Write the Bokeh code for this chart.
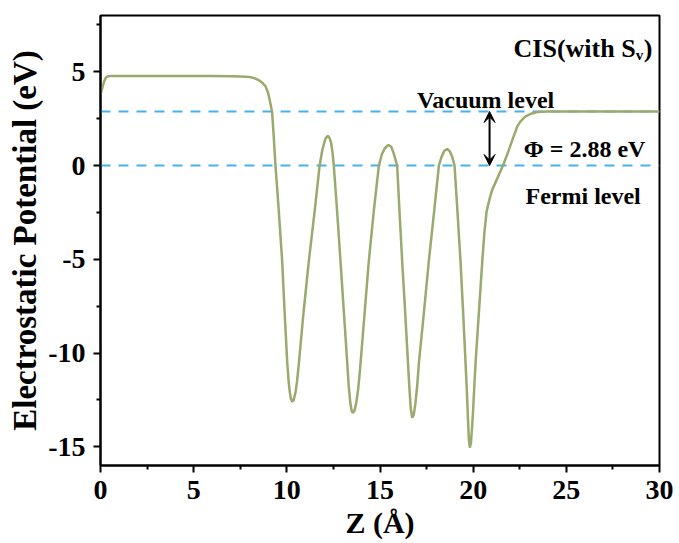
from bokeh.plotting import figure
from bokeh.models import Range1d, FixedTicker, Arrow, VeeHead, Label, Title
from bokeh.embed import file_html
from bokeh.resources import INLINE

# Planar-averaged electrostatic potential along Z for CIS with S vacancy
z_angstrom = [
    0.00, 0.10, 0.20, 0.30, 0.40, 0.60, 1.0, 2.0, 3.0, 4.0, 5.0, 6.0, 7.0, 7.5,
    8.0, 8.25, 8.5, 8.7, 8.86, 9.0, 9.1, 9.21, 9.3, 9.39, 9.48, 9.57, 9.75, 9.88,
    10.02, 10.1, 10.16, 10.22, 10.29, 10.36, 10.47, 10.55, 10.65, 10.9, 11.18,
    11.49, 11.76, 11.9, 11.99, 12.08, 12.2, 12.3, 12.38, 12.45, 12.52, 12.7,
    12.88, 13.06, 13.24, 13.32, 13.4, 13.47, 13.54, 13.62, 13.72, 13.82, 13.9, 13.96,
    14.18, 14.4, 14.67, 14.94, 15.1, 15.25, 15.38, 15.48, 15.6, 15.72, 15.82,
    15.92, 16.05, 16.19, 16.35, 16.5, 16.58, 16.65, 16.73, 16.81, 16.9, 17.0,
    17.09, 17.36, 17.62, 17.9, 18.16, 18.3, 18.45, 18.61, 18.75, 18.88, 19.0,
    19.16, 19.32, 19.46, 19.59, 19.66, 19.72, 19.77, 19.82, 19.88, 19.94, 20.0,
    20.06, 20.13, 20.31, 20.49, 20.6, 20.72, 20.85, 21.0, 21.2, 21.4, 21.6,
    21.85, 22.1, 22.37, 22.54, 22.81, 23.1, 23.44, 24.0, 25.0, 27.0, 30.0,
]
potential_ev = [
    3.78, 4.15, 4.50, 4.70, 4.76, 4.78, 4.78, 4.78, 4.78, 4.78, 4.77, 4.77, 4.76, 4.75,
    4.72, 4.66, 4.55, 4.40, 4.22, 3.85, 3.40, 2.85, 1.50, 0.00, -1.20, -2.46, -5.10, -7.80,
    -10.50, -11.55, -12.10, -12.45, -12.60, -12.52, -12.08, -11.50, -10.50, -7.80, -5.10,
    -2.46, 0.00, 0.80, 1.15, 1.45, 1.58, 1.45, 1.20, 0.70, 0.00, -2.46,
    -5.10, -7.80, -10.50, -11.75, -12.60, -13.05, -13.20, -13.10, -12.70, -12.00, -11.20, -10.50,
    -7.80, -5.10, -2.40, 0.00, 0.60, 0.90, 1.05, 1.08, 1.00, 0.70, 0.35,
    0.00, -2.50, -5.10, -7.80, -10.50, -11.90, -12.95, -13.45, -13.30, -12.70, -11.70,
    -10.50, -7.80, -5.10, -2.50, 0.00, 0.45, 0.78, 0.88, 0.75, 0.45, 0.00,
    -2.50, -5.10, -7.80, -10.50, -12.00, -13.50, -14.60, -15.05, -14.80, -14.00, -13.00,
    -11.80, -10.50, -7.80, -5.10, -3.60, -2.46, -1.90, -1.35, -0.90, -0.45, 0.00,
    0.65, 1.35, 2.09, 2.35, 2.62, 2.76, 2.85, 2.88, 2.88, 2.88, 2.88,
]

vacuum_level = 2.88
fermi_level = 0.0
level_span = [0, 30]
work_function_z = 20.88

x_ticks = [0, 5, 10, 15, 20, 25, 30]
x_minor = [2.5, 7.5, 12.5, 17.5, 22.5, 27.5]
y_ticks = [-15, -10, -5, 0, 5]
y_minor = [-12.5, -7.5, -2.5, 2.5, 7.5]
y_tick_labels = ["-15", "-10", "-5", "0", "5"]

FONT = "Liberation Serif"
CURVE = "#9aa96c"
DASH = "#45b2ee"

p = figure(width=679, height=543, output_backend="svg", toolbar_location=None,
           x_range=Range1d(0, 30), y_range=Range1d(-16, 8))
p.min_border_left = 100
p.min_border_right = 20
p.min_border_top = 15
p.min_border_bottom = 78
p.background_fill_color = "white"
p.border_fill_color = "white"
p.outline_line_color = "black"
p.outline_line_width = 2
p.xgrid.visible = False
p.ygrid.visible = False

for ax, ticks, minor in ((p.xaxis[0], x_ticks, x_minor), (p.yaxis[0], y_ticks, y_minor)):
    ax.ticker = FixedTicker(ticks=ticks, minor_ticks=minor)
    ax.axis_line_color = "black"
    ax.axis_line_width = 2
    ax.major_tick_line_color = "black"
    ax.major_tick_line_width = 2
    ax.minor_tick_line_color = "black"
    ax.minor_tick_line_width = 2
    ax.major_tick_in = 0
    ax.major_tick_out = 7
    ax.minor_tick_in = 0
    ax.minor_tick_out = 4
    ax.major_label_text_font = FONT
    ax.major_label_text_font_style = "bold"
    ax.major_label_text_font_size = "28px"
    ax.major_label_text_color = "black"
    ax.axis_label_text_font = FONT
    ax.axis_label_text_font_style = "bold"
    ax.axis_label_text_color = "black"

p.yaxis.major_label_overrides = dict(zip(y_ticks, y_tick_labels))
p.xaxis.axis_label = "Z (Å)"
p.xaxis.axis_label_text_font_size = "30px"
p.xaxis.major_label_standoff = 8
p.xaxis.axis_label_standoff = 4
p.yaxis.major_label_standoff = 8

# vertical axis title, stacked to the left of the y axis
p.add_layout(Title(text="Electrostatic Potential (eV)", align="center",
                   text_font=FONT, text_font_style="bold", text_font_size="33px",
                   text_color="black", standoff=6), "left")

# reference levels
p.line(level_span, [vacuum_level] * 2, line_color=DASH, line_width=2, line_dash="10 8")
p.line(level_span, [fermi_level] * 2, line_color=DASH, line_width=2, line_dash="10 8")

# potential profile
p.line(z_angstrom, potential_ev, line_color=CURVE, line_width=2.5)

# work function arrow between the two levels
p.add_layout(Arrow(x_start=work_function_z, y_start=fermi_level,
                   x_end=work_function_z, y_end=vacuum_level,
                   start=VeeHead(size=11, fill_color="black", line_color="black", line_width=1),
                   end=VeeHead(size=11, fill_color="black", line_color="black", line_width=1),
                   line_color="black", line_width=2))

def add_text(x, y, txt, size, align="left"):
    p.add_layout(Label(x=x, y=y, text=txt, text_font=FONT, text_font_style="bold",
                       text_font_size=size, text_color="black", text_align=align,
                       text_baseline="alphabetic"))

add_text(20.67, 3.48, "Vacuum level", "24px", "center")
add_text(22.72, 0.86, "Φ = 2.88 eV", "24px")
add_text(22.81, -1.60, "Fermi level", "24px")
add_text(28.72, 6.26, "CIS(with S", "26px", "right")
add_text(28.72, 5.90, "v", "15px")
add_text(29.15, 6.26, ")", "26px")

open("out.html", "w").write(file_html(p, INLINE))
